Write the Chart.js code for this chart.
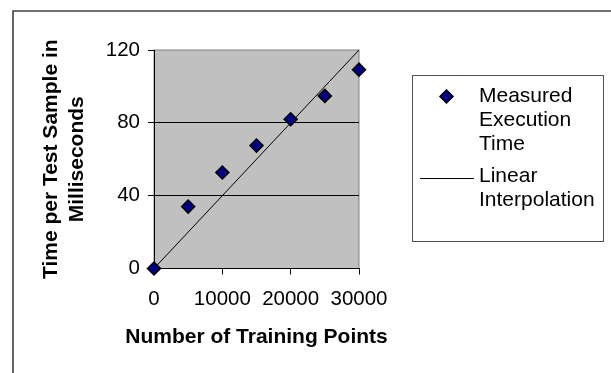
<!DOCTYPE html>
<html lang="en">
<head>
    <meta charset="UTF-8">
    <title>Time per Test Sample</title>
    <script src="https://cdn.jsdelivr.net/npm/chart.js"></script>
    <style>
        body {
            margin: 0;
            padding: 0;
            background: #ffffff;
        }
        canvas {
            display: block;
        }
    </style>
</head>
<body>
    <canvas id="chart" width="611" height="373"></canvas>

    <script>
        // data
        const trainingPoints = [0, 5000, 10000, 15000, 20000, 25000, 30000];
        const measuredMs = [0, 34, 52.7, 67.5, 82, 94.8, 109.2];
        const interpX = [0, 30000];
        const interpY = [0, 120];
        const xTicks = [0, 10000, 20000, 30000];
        const yTicks = [0, 40, 80, 120];
        const measuredLabel = ["Measured", "Execution", "Time"];
        const interpLabel = ["Linear", "Interpolation"];
        const xTitle = "Number of Training Points";
        const yTitle = ["Time per Test Sample in", "Milliseconds"];

        const FONT = "'Liberation Sans', Arial, sans-serif";
        Chart.defaults.font.family = FONT;
        Chart.defaults.color = "#000000";

        // gray plot area, outer frame, x title and the boxed legend
        const excelLook = {
            id: "excelLook",
            beforeDraw(chart) {
                const ctx = chart.ctx;
                const a = chart.chartArea;
                ctx.save();
                ctx.fillStyle = "#c0c0c0";
                ctx.fillRect(a.left, a.top, a.right - a.left, a.bottom - a.top);
                ctx.strokeStyle = "#808080";
                ctx.lineWidth = 1;
                ctx.strokeRect(a.left, a.top, a.right - a.left, a.bottom - a.top);

                ctx.strokeStyle = "#404040";
                ctx.lineWidth = 1.6;
                ctx.beginPath();
                ctx.moveTo(13, 373);
                ctx.lineTo(13, 11);
                ctx.lineTo(611, 11);
                ctx.stroke();
                ctx.restore();
            },
            afterDraw(chart) {
                const ctx = chart.ctx;
                const a = chart.chartArea;
                const ds = chart.data.datasets;
                ctx.save();

                // x axis title (drawn here so it is not squeezed to the plot width)
                ctx.fillStyle = "#000000";
                ctx.font = "bold 21px " + FONT;
                ctx.textAlign = "center";
                ctx.textBaseline = "middle";
                ctx.fillText(xTitle, (a.left + a.right) / 2, 337);

                ctx.strokeStyle = "#505050";
                ctx.lineWidth = 1;
                ctx.strokeRect(412.5, 75.5, 191, 166);

                // marker
                const mx = 446.5, my = 96.5, r = 6.5;
                ctx.beginPath();
                ctx.moveTo(mx, my - r);
                ctx.lineTo(mx + r, my);
                ctx.lineTo(mx, my + r);
                ctx.lineTo(mx - r, my);
                ctx.closePath();
                ctx.fillStyle = ds[0].backgroundColor;
                ctx.fill();
                ctx.strokeStyle = ds[0].borderColor;
                ctx.lineWidth = 1.5;
                ctx.stroke();

                // line sample
                ctx.beginPath();
                ctx.moveTo(420, 178.5);
                ctx.lineTo(474, 178.5);
                ctx.strokeStyle = ds[1].borderColor;
                ctx.lineWidth = 1;
                ctx.stroke();

                ctx.fillStyle = "#000000";
                ctx.font = "21px " + FONT;
                ctx.textBaseline = "alphabetic";
                ctx.textAlign = "left";
                measuredLabel.forEach((t, i) => ctx.fillText(t, 479, 102 + i * 24));
                interpLabel.forEach((t, i) => ctx.fillText(t, 479, 182 + i * 24));
                ctx.restore();
            }
        };

        const ctx = document.getElementById("chart").getContext("2d");
        new Chart(ctx, {
            type: "scatter",
            data: {
                datasets: [
                    {
                        label: measuredLabel.join(" "),
                        data: trainingPoints.map((x, i) => ({ x: x, y: measuredMs[i] })),
                        pointStyle: "rectRot",
                        pointRadius: 6.5,
                        backgroundColor: "#000080",
                        borderColor: "#000000",
                        borderWidth: 1.5,
                        clip: false,
                    },
                    {
                        label: interpLabel.join(" "),
                        data: interpX.map((x, i) => ({ x: x, y: interpY[i] })),
                        showLine: true,
                        pointRadius: 0,
                        borderColor: "#000000",
                        borderWidth: 1,
                        clip: false,
                    },
                ],
            },
            options: {
                responsive: false,
                animation: false,
                devicePixelRatio: 1,
                layout: {
                    padding: { left: 13, top: 50, right: 252, bottom: 0 },
                },
                plugins: {
                    legend: { display: false },
                    tooltip: { enabled: false },
                },
                scales: {
                    x: {
                        type: "linear",
                        min: 0,
                        max: 30000,
                        afterBuildTicks: (scale) => {
                            scale.ticks = xTicks.map((v) => ({ value: v }));
                        },
                        afterFit: (scale) => {
                            scale.height = 104.5;
                        },
                        ticks: {
                            font: { size: 20.5 },
                            padding: 13,
                            maxRotation: 0,
                            callback: (v) => String(v),
                        },
                        grid: {
                            drawOnChartArea: false,
                            tickLength: 6,
                            tickColor: "#000000",
                        },
                        border: { color: "#000000", width: 1 },
                    },
                    y: {
                        min: 0,
                        max: 120,
                        afterBuildTicks: (scale) => {
                            scale.ticks = yTicks.map((v) => ({ value: v }));
                        },
                        afterFit: (scale) => {
                            scale.width = 141;
                        },
                        ticks: {
                            font: { size: 20.5 },
                            padding: 8,
                        },
                        grid: {
                            color: (c) => (c.tick && (c.tick.value === 40 || c.tick.value === 80) ? "#000000" : "rgba(0,0,0,0)"),
                            tickColor: "#000000",
                            tickLength: 6,
                            lineWidth: 1,
                        },
                        border: { color: "#000000", width: 1 },
                        title: {
                            display: true,
                            text: yTitle,
                            font: { size: 21, weight: "bold" },
                            padding: { top: 26, bottom: 0 },
                        },
                    },
                },
            },
            plugins: [excelLook],
        });
    </script>
</body>
</html>
